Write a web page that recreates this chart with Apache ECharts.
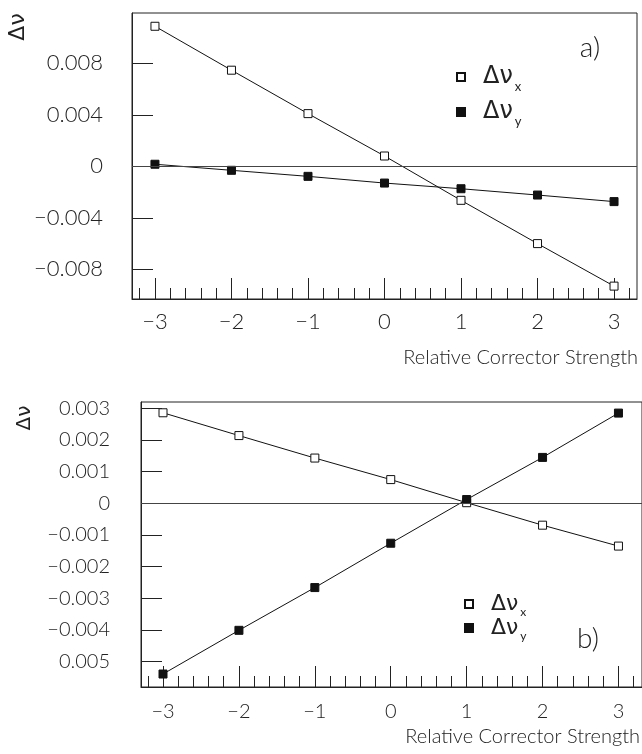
<!DOCTYPE html>
<html>
<head>
<meta charset="utf-8">
<script src="https://cdn.jsdelivr.net/npm/echarts@6/dist/echarts.min.js"></script>
<style>
  html, body { margin: 0; padding: 0; background: #fff; }
  #main { width: 642px; height: 754px; }
</style>
</head>
<body>
<div id="main"></div>
<script>
// corrector strength (x) and measured tune shifts
const strength = [-3, -2, -1, 0, 1, 2, 3];
const dnuXa = [0.01087, 0.00746, 0.00409, 0.0008, -0.00264, -0.0060, -0.0093];
const dnuYa = [0.00016, -0.00031, -0.00078, -0.0013, -0.00174, -0.00223, -0.00274];
const dnuXb = [0.00286, 0.00214, 0.00143, 0.00075, 0.00002, -0.00069, -0.00135];
const dnuYb = [-0.00539, -0.00401, -0.00266, -0.00126, 0.00012, 0.00145, 0.00285];

// tick labels
const xTicks = [-3, -2, -1, 0, 1, 2, 3];
const xTickLabels = ['\u22123', '\u22122', '\u22121', '0', '1', '2', '3'];
const yTicksA = [-0.008, -0.004, 0, 0.004, 0.008];
const yLabelsA = ['\u22120.008', '\u22120.004', '0', '0.004', '0.008'];
const yTicksB = [-0.005, -0.004, -0.003, -0.002, -0.001, 0, 0.001, 0.002, 0.003];
const yLabelsB = ['0.005', '\u22120.004', '\u22120.003', '\u22120.002', '\u22120.001', '0', '0.001', '0.002', '0.003'];

// minor ticks every 0.2
const minorTicks = [];
for (let i = -16; i <= 16; i++) minorTicks.push(Math.round(i * 2) / 10);

const FONT = 'Lato';
const INK = '#222';

function pick(ticks, labels) {
  return function (v) {
    const i = ticks.findIndex(t => Math.abs(t - v) < 1e-9);
    return i < 0 ? '' : labels[i];
  };
}
function pairs(ys) {
  return strength.map((s, i) => [s, ys[i]]);
}

const myChart = echarts.init(document.getElementById('main'));

function xAxes(grid, min, max, size, margin) {
  return [
    {
      type: 'value', gridIndex: grid, min: min, max: max, position: 'bottom',
      splitLine: { show: false },
      axisLine: { onZero: false, lineStyle: { color: INK, width: 1 } },
      axisTick: { inside: true, length: 11, customValues: minorTicks, lineStyle: { color: INK } },
      axisLabel: {
        customValues: xTicks, formatter: pick(xTicks, xTickLabels),
        fontFamily: FONT, fontWeight: 300, fontSize: size, color: INK, margin: margin
      }
    },
    {
      type: 'value', gridIndex: grid, min: min, max: max, position: 'bottom',
      splitLine: { show: false },
      axisLine: { show: false, onZero: false },
      axisTick: { inside: true, length: 21, customValues: xTicks, lineStyle: { color: INK } },
      axisLabel: { show: false }
    }
  ];
}

function yAxis(grid, min, max, ticks, labels, size, margin) {
  return {
    type: 'value', gridIndex: grid, min: min, max: max,
    splitLine: { show: false },
    axisLine: { onZero: false, lineStyle: { color: INK, width: 1 } },
    axisTick: { inside: true, length: 21, customValues: ticks, lineStyle: { color: INK } },
    axisLabel: {
      customValues: ticks, formatter: pick(ticks, labels),
      fontFamily: FONT, fontWeight: 300, fontSize: size, color: INK, margin: margin
    }
  };
}

function series(name, xi, yi, data, filled, zero) {
  const s = {
    name: name, type: 'line', xAxisIndex: xi, yAxisIndex: yi,
    data: data, symbol: 'rect', symbolSize: 8,
    lineStyle: { color: '#111', width: 1 },
    itemStyle: { color: filled ? '#111' : '#fff', borderColor: '#111', borderWidth: 1 },
    z: filled ? 4 : 3
  };
  if (zero) {
    s.markLine = {
      silent: true, symbol: 'none', label: { show: false },
      lineStyle: { color: '#444', width: 1, type: 'solid' },
      data: [{ yAxis: 0 }]
    };
  }
  return s;
}

// legend text: Δν with subscript
function legendRich(big, small, drop) {
  return {
    m: { fontFamily: 'DejaVu Sans', fontSize: big, color: INK, verticalAlign: 'top', lineHeight: big, padding: [0, 0, 0, 13] },
    s: { fontFamily: FONT, fontSize: small, color: INK, verticalAlign: 'top', lineHeight: small, padding: [drop, 0, 0, 2] }
  };
}
function legendFmt(name) {
  return '{m|\u0394\u03bd}{s|' + name[1] + '}';
}

const option = {
  animation: false,
  backgroundColor: '#fff',
  grid: [
    { left: 132, right: 5, top: 13, height: 286, show: true, borderColor: INK, borderWidth: 1 },
    { left: 141, right: -4, top: 402, height: 285, show: true, borderColor: INK, borderWidth: 1 }
  ],
  xAxis: [].concat(
    xAxes(0, -3.3, 3.3, 22, 12),
    xAxes(1, -3.29, 3.31, 20, 15)
  ),
  yAxis: [
    yAxis(0, -0.0103, 0.0119, yTicksA, yLabelsA, 22, 29),
    yAxis(1, -0.0058, 0.0032, yTicksB, yLabelsB, 20, 31)
  ],
  legend: [
    {
      data: ['ax', 'ay'], orient: 'vertical', left: 456, top: 65, padding: 0,
      itemWidth: 8, itemHeight: 8, itemGap: 7, icon: 'rect',
      formatter: legendFmt, textStyle: { rich: legendRich(24, 13, 15) }, selectedMode: false
    },
    {
      data: ['bx', 'by'], orient: 'vertical', left: 464, top: 593, padding: 0,
      itemWidth: 8, itemHeight: 8, itemGap: -1, icon: 'rect',
      formatter: legendFmt, textStyle: { rich: legendRich(22, 12, 13) }, selectedMode: false
    }
  ],
  graphic: [
    { type: 'text', x: 18, y: 27, rotation: Math.PI / 2,
      style: { text: '\u0394\u03bd', font: '22px "DejaVu Sans"', fill: INK, align: 'center', verticalAlign: 'middle' } },
    { type: 'text', x: 25, y: 418, rotation: Math.PI / 2,
      style: { text: '\u0394\u03bd', font: '20px "DejaVu Sans"', fill: INK, align: 'center', verticalAlign: 'middle' } },
    { type: 'text', x: 590, y: 48,
      style: { text: 'a)', font: '300 28px ' + FONT, fill: INK, align: 'center', verticalAlign: 'middle' } },
    { type: 'text', x: 588, y: 639,
      style: { text: 'b)', font: '300 28px ' + FONT, fill: INK, align: 'center', verticalAlign: 'middle' } },
    { type: 'text', x: 638, y: 358,
      style: { text: 'Relative Corrector Strength', font: '300 20px ' + FONT, fill: INK, align: 'right', verticalAlign: 'middle' } },
    { type: 'text', x: 640, y: 737,
      style: { text: 'Relative Corrector Strength', font: '300 20px ' + FONT, fill: INK, align: 'right', verticalAlign: 'middle' } }
  ],
  series: [
    series('ax', 0, 0, pairs(dnuXa), false, true),
    series('ay', 0, 0, pairs(dnuYa), true, false),
    series('bx', 2, 1, pairs(dnuXb), false, true),
    series('by', 2, 1, pairs(dnuYb), true, false)
  ]
};
myChart.setOption(option);
</script>
</body>
</html>
